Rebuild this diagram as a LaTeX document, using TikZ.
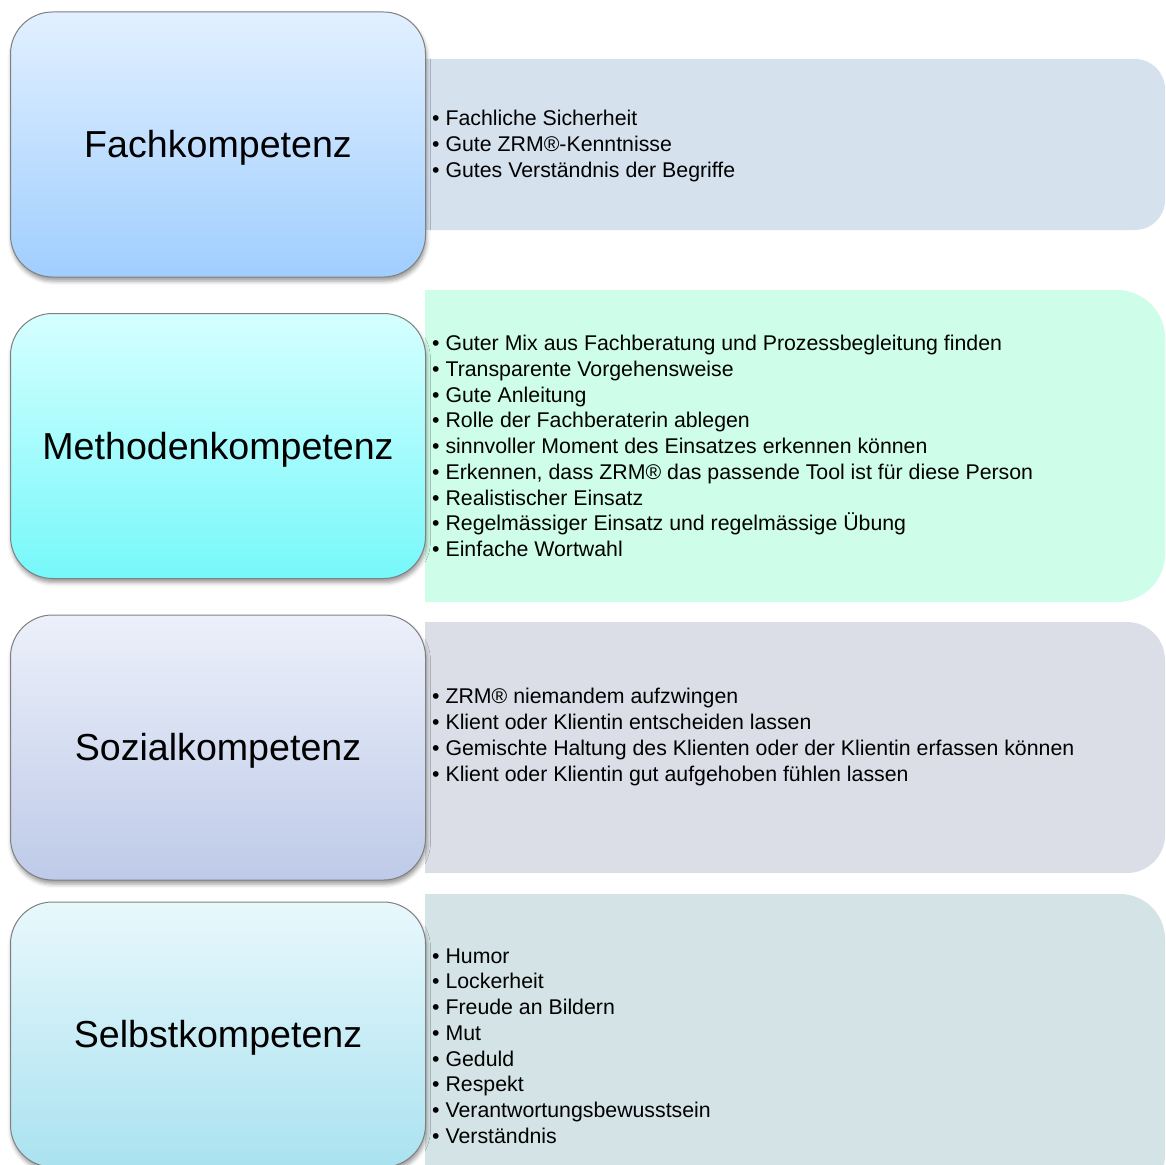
\documentclass[tikz,border=0pt]{standalone}
\usepackage{fontspec}
\setmainfont{Liberation Sans}
\usepackage{xcolor}
\usetikzlibrary{shadows.blur}
\definecolor{boxline}{RGB}{128,128,128}
\definecolor{fachtop}{RGB}{226,240,255}
\definecolor{fachbot}{RGB}{160,206,255}
\definecolor{methtop}{RGB}{214,255,255}
\definecolor{methbot}{RGB}{118,248,250}
\definecolor{soztop}{RGB}{236,240,250}
\definecolor{sozbot}{RGB}{190,202,232}
\definecolor{selbsttop}{RGB}{232,248,252}
\definecolor{selbstbot}{RGB}{170,226,240}
\definecolor{fachpanel}{RGB}{214,225,238}
\definecolor{methpanel}{RGB}{206,253,234}
\definecolor{sozpanel}{RGB}{219,222,230}
\definecolor{selbstpanel}{RGB}{212,227,230}
\tikzset{
  kbox/.style={draw=boxline, line width=1pt, rounded corners=42pt,
    minimum width=415pt, minimum height=265pt, inner sep=0pt,
    text depth=0.1em, font=\fontsize{37.6}{44}\selectfont,
    blur shadow={shadow xshift=1pt, shadow yshift=-4pt, shadow blur radius=4pt, shadow opacity=40}},
  klist/.style={anchor=west, align=left, inner sep=0pt, font=\fontsize{21.3}{25.7}\selectfont},
}
% panel: top, bottom, radius, colour
\newcommand{\kpanel}[4]{%
  \fill[#4] (425,#1) -- ({1165-#3},#1) arc[start angle=-90,end angle=0,radius=#3]
    -- (1165,{#2-#3}) arc[start angle=0,end angle=90,radius=#3] -- (425,#2) -- cycle;}
\begin{document}
\begin{tikzpicture}[x=1pt,y=-1pt]
    \useasboundingbox (0,0) rectangle (1166,1164);
    \clip (0,0) rectangle (1166,1164);
    % panels
    \kpanel{59}{230}{30}{fachpanel}
    \kpanel{290}{602}{48}{methpanel}
    \kpanel{622}{873}{38}{sozpanel}
    \kpanel{894}{1200}{45}{selbstpanel}
    % boxes
    \node[kbox, top color=fachtop, bottom color=fachbot] (fach) at (218,144.5) {Fachkompetenz};
    \node[kbox, top color=methtop, bottom color=methbot] (methoden) at (218,446) {Methodenkompetenz};
    \node[kbox, top color=soztop, bottom color=sozbot] (sozial) at (218,747.5) {Sozialkompetenz};
    \node[kbox, top color=selbsttop, bottom color=selbstbot] (selbst) at (218,1034.5) {Selbstkompetenz};
    % lists
    \node[klist] (fachlist) at (432,146) {• Fachliche Sicherheit\\• Gute ZRM®-Kenntnisse\\• Gutes Verständnis der Begriffe};
    \node[klist] (methodenlist) at (432,446) {• Guter Mix aus Fachberatung und Prozessbegleitung finden\\• Transparente Vorgehensweise\\• Gute Anleitung\\• Rolle der Fachberaterin ablegen\\• sinnvoller Moment des Einsatzes erkennen können\\• Erkennen, dass ZRM® das passende Tool ist für diese Person\\• Realistischer Einsatz\\• Regelmässiger Einsatz und regelmässige Übung\\• Einfache Wortwahl};
    \node[klist] (soziallist) at (432,737) {• ZRM® niemandem aufzwingen\\• Klient oder Klientin entscheiden lassen\\• Gemischte Haltung des Klienten oder der Klientin erfassen können\\• Klient oder Klientin gut aufgehoben fühlen lassen};
    \node[klist] (selbstlist) at (432,1046) {• Humor\\• Lockerheit\\• Freude an Bildern\\• Mut\\• Geduld\\• Respekt\\• Verantwortungsbewusstsein\\• Verständnis};
\end{tikzpicture}
\end{document}
